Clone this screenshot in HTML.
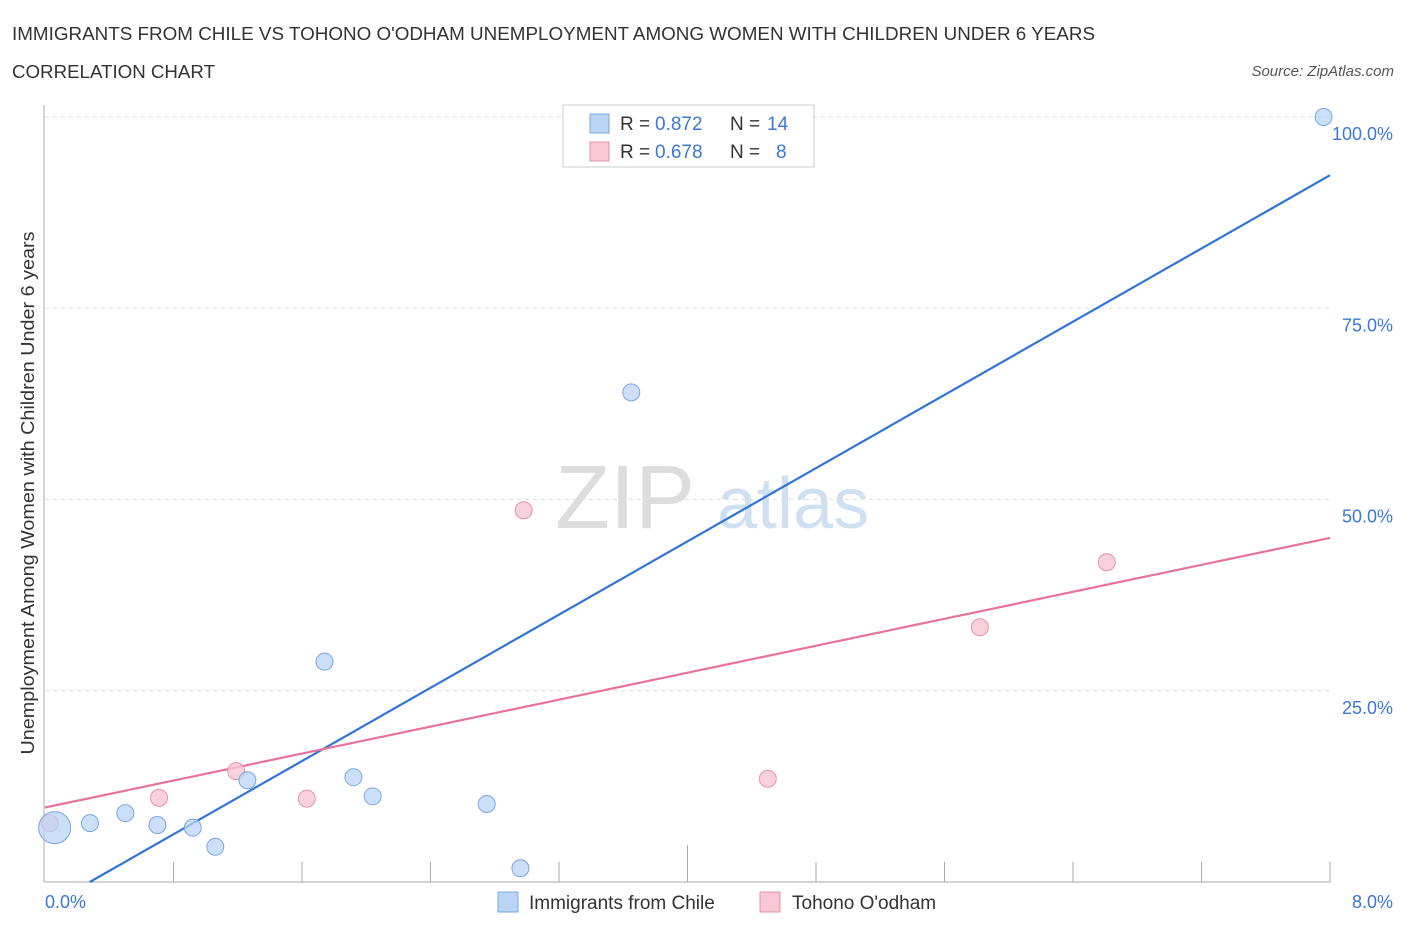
<!DOCTYPE html>
<html><head><meta charset="utf-8"><style>
body{margin:0;background:#fff;font-family:"Liberation Sans",sans-serif;}
svg text{font-family:"Liberation Sans",sans-serif;}
</style></head><body>
<svg id="c" width="1406" height="930" xmlns="http://www.w3.org/2000/svg">
<text x="12" y="40" font-size="18" fill="#333" textLength="1083" lengthAdjust="spacingAndGlyphs">IMMIGRANTS FROM CHILE VS TOHONO O'ODHAM UNEMPLOYMENT AMONG WOMEN WITH CHILDREN UNDER 6 YEARS</text>
<text x="12" y="78" font-size="18" fill="#333" textLength="203" lengthAdjust="spacingAndGlyphs">CORRELATION CHART</text>
<text x="1394" y="76" font-size="15" fill="#555" font-style="italic" text-anchor="end">Source: ZipAtlas.com</text>
<text x="34" y="493" font-size="18" fill="#333" text-anchor="middle" textLength="523" lengthAdjust="spacingAndGlyphs" transform="rotate(-90 34 493)">Unemployment Among Women with Children Under 6 years</text>
<text x="555" y="528" font-size="90" fill="#ddd" font-family="Liberation Serif">ZIP</text>
<text x="717" y="528" font-size="72" fill="#cfe0f3">atlas</text>
<g id="grid"></g><g id="lines"></g><g id="pts"></g>
<g>
<rect x="563" y="105" width="251" height="62" fill="#fff" stroke="#ccc"/>
<rect x="590" y="114" width="19" height="19" fill="#b9d4f5" stroke="#7aa7e0"/>
<rect x="590" y="142" width="19" height="19" fill="#f8c6d4" stroke="#e892aa"/>
<text x="620" y="130" font-size="19" fill="#333">R =</text><text x="655" y="130" font-size="19" fill="#3b78d8">0.872</text>
<text x="730" y="130" font-size="19" fill="#333">N =</text><text x="767" y="130" font-size="19" fill="#3b78d8">14</text>
<text x="620" y="158" font-size="19" fill="#333">R =</text><text x="655" y="158" font-size="19" fill="#3b78d8">0.678</text>
<text x="730" y="158" font-size="19" fill="#333">N =</text><text x="776" y="158" font-size="19" fill="#3b78d8">8</text>
</g>
<g>
<rect x="498" y="892" width="20" height="20" fill="#b9d4f5" stroke="#7aa7e0"/>
<text x="529" y="909" font-size="19" fill="#333">Immigrants from Chile</text>
<rect x="760" y="892" width="20" height="20" fill="#f8c6d4" stroke="#e892aa"/>
<text x="792" y="909" font-size="19" fill="#333">Tohono O'odham</text>
</g>
</svg>
<script>
const blueX=[0.06,0.28,0.5,0.7,0.92,1.06,1.26,1.74,1.92,2.04,2.75,2.96,3.65,7.96];
const blueY=[7.1,7.7,9.0,7.45,7.1,4.6,13.3,28.8,13.7,11.2,10.2,1.8,64.0,100];
const blueR=[16,8.5,8.5,8.5,8.5,8.5,8.5,8.5,8.5,8.5,8.5,8.5,8.5,8.5];
const pinkX=[0.03,0.71,1.19,1.63,2.98,4.5,5.82,6.61];
const pinkY=[7.7,11.0,14.5,10.9,48.6,13.5,33.3,41.8];
const yTicks=[25,50,75,100];
const yTickLabels=["25.0%","50.0%","75.0%","100.0%"];
const xTickLabels=["0.0%","8.0%"];
const NS="http://www.w3.org/2000/svg";
const sx=v=>45+v/8*1285, sy=v=>882-v/100*765;
function mk(t,a,p){const e=document.createElementNS(NS,t);for(const k in a)e.setAttribute(k,a[k]);p.appendChild(e);return e;}
const g=document.getElementById('grid');
yTicks.forEach((t,i)=>{
 const l=mk('line',{x1:45,x2:1330,y1:sy(t),y2:sy(t),stroke:'#ddd','stroke-dasharray':'4,4'},g);
 
 
 const tx=mk('text',{x:1393,y:sy(t)+23,'font-size':18,fill:'#3b78d8','text-anchor':'end'},g);tx.textContent=yTickLabels[i];
 
 
});
const ax=mk('line',{x1:44,x2:44,y1:105,y2:882,stroke:'#aaa'},g);


const bx=mk('line',{x1:44,x2:1330,y1:882,y2:882,stroke:'#aaa'},g);


for(let i=1;i<=10;i++){const x=sx(i*0.8);const t=mk('line',{x1:x,x2:x,y1:882,y2:i==5?845:862,stroke:'#aaa'},g);
 
 }
[[0,45,'start'],[1,1393,'end']].forEach(([i,x,a])=>{const t=mk('text',{x:x,y:908,'font-size':18,fill:'#3b78d8','text-anchor':a},g);t.textContent=xTickLabels[i];
 
 });
function fit(X,Y){const n=X.length,mx=X.reduce((a,b)=>a+b)/n,my=Y.reduce((a,b)=>a+b)/n;let sxy=0,sxx=0;X.forEach((x,i)=>{sxy+=(x-mx)*(Y[i]-my);sxx+=(x-mx)**2});const b=sxy/sxx;return [my-b*mx,b];}
const L=document.getElementById('lines');
function drawLine(X,Y,col,name){const [a,b]=fit(X,Y);let x0=0;if(a<0)x0=-a/b;
 const l=mk('line',{x1:sx(x0),y1:sy(a+b*x0),x2:sx(8),y2:sy(a+b*8),stroke:col,'stroke-width':2.2},L);
 
 }
drawLine(blueX,blueY,'#2f74d8','trendline-chile');
drawLine(pinkX,pinkY,'#e8739a','trendline-tohono');
const P=document.getElementById('pts');
pinkX.forEach((x,i)=>{const c=mk('circle',{cx:sx(x),cy:sy(pinkY[i]),r:8.5,fill:'#f8c6d4','fill-opacity':0.8,stroke:'#e892aa'},P);
 
 });
blueX.forEach((x,i)=>{const c=mk('circle',{cx:sx(x),cy:sy(blueY[i]),r:blueR[i],fill:'#b9d4f5','fill-opacity':0.75,stroke:'#7aa7e0'},P);
 
 });
</script>
</body></html>
